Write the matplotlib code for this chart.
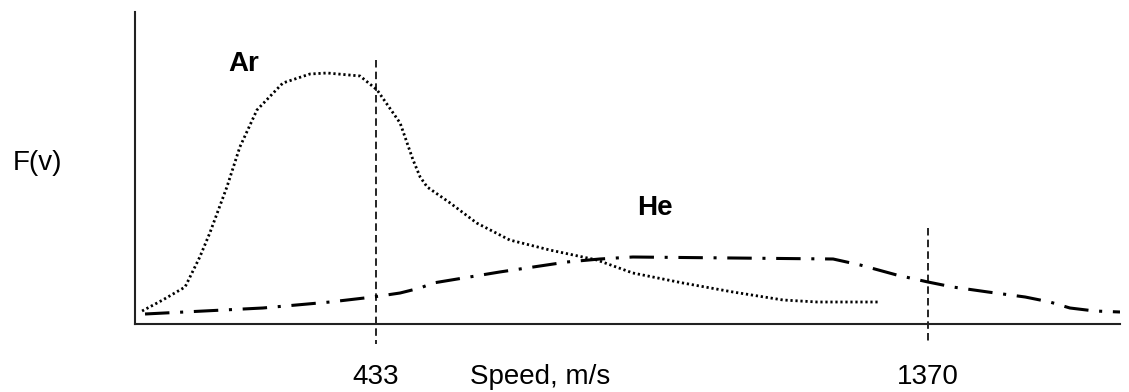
import matplotlib.pyplot as plt

# speed (m/s) and relative F(v)
ar_speed = [36, 71, 109, 134, 151, 180, 202, 231, 275, 321, 350, 406, 435, 474, 496, 508, 520,
            559, 604, 660, 728, 808, 869, 954, 1039, 1124, 1182, 1285]
ar_f = [13, 24, 37, 67, 91, 137, 177, 214, 241, 250, 251, 248, 234, 201, 164, 147, 137,
        121, 101, 84, 74, 64, 51, 41, 32, 24, 22, 22]

he_speed = [41, 241, 355, 428, 474, 508, 530, 643, 757, 813, 869, 1039, 1209, 1255, 1317,
            1370, 1412, 1472, 1535, 1577, 1611, 1653, 1696]
he_f = [10, 16, 22, 27, 31, 36, 41, 52, 62, 65, 67, 66, 65, 59, 49,
        42, 37, 32, 27, 22, 16, 13, 12]

marks = [433, 1370]
mark_tops = [264, 96]


def main() -> None:
    plt.rcParams["font.family"] = ["Liberation Sans", "DejaVu Sans"]
    fig = plt.figure(figsize = (11.29, 3.92), dpi = 100)
    ax = fig.add_axes([135 / 1129, 68 / 392, 985 / 1129, 312 / 392])

    ax.plot(ar_speed, ar_f, color = "black", lw = 2.0, linestyle = (0, (0.8, 1.0)),
            solid_joinstyle = "round")
    ax.plot(he_speed, he_f, color = "black", lw = 2.2, linestyle = (0, (8, 3.5, 1, 3.5)))

    for v, top in zip(marks, mark_tops):
        ax.plot([v, v], [top, -20], color = "black", lw = 1.2, linestyle = (0, (4.5, 2.5)),
                clip_on = False)
        ax.text(v, -53, str(v), ha = "center", va = "center", fontsize = 20)

    ax.text(711, -53, "Speed, m/s", ha = "center", va = "center", fontsize = 20)
    ax.text(-142, 161, "F(v)", ha = "center", va = "center", fontsize = 20)
    ax.text(209, 260, "Ar", ha = "center", va = "center", fontsize = 20, fontweight = "bold")
    ax.text(907, 116, "He", ha = "center", va = "center", fontsize = 20, fontweight = "bold")

    ax.set_xlim(24, 1696)
    ax.set_ylim(0, 312)
    ax.set_xticks([])
    ax.set_yticks([])
    for side in ["top", "right"]:
        ax.spines[side].set_visible(False)
    for side in ["left", "bottom"]:
        ax.spines[side].set_linewidth(1.5)
        ax.spines[side].set_color("#222222")

    fig.savefig("out.png", dpi = 100)
    plt.close(fig)


if __name__ == "__main__":
    main()
